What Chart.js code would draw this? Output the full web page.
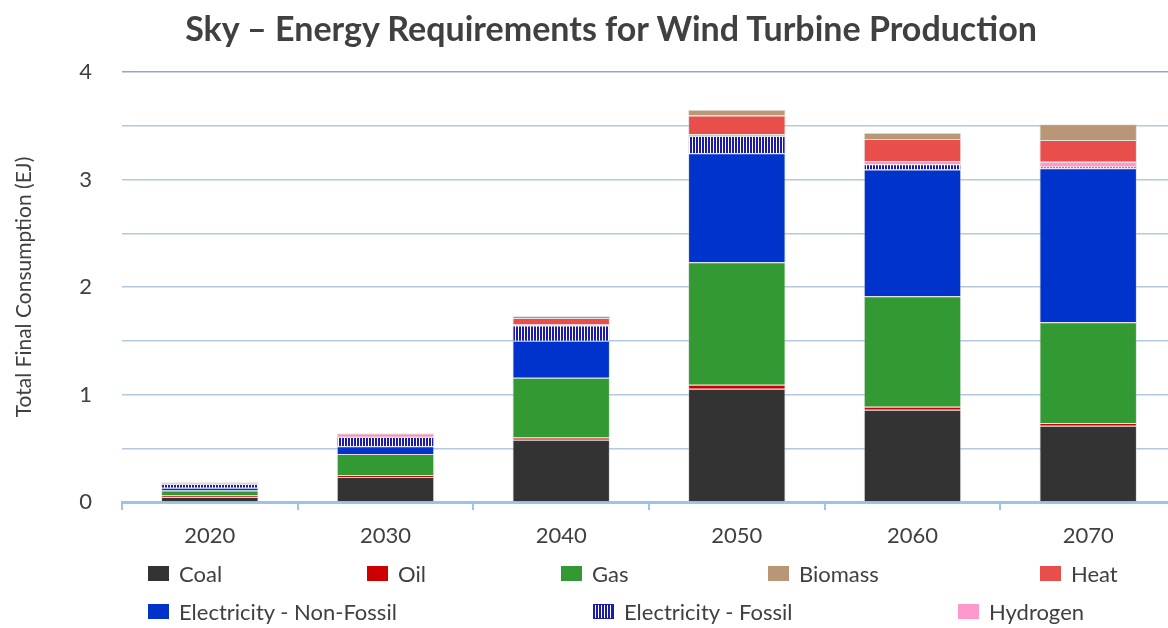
<!DOCTYPE html>
<html>
<head>
<meta charset="utf-8">
<script src="https://cdn.jsdelivr.net/npm/chart.js@4.4.1/dist/chart.umd.min.js"></script>
<style>
  html, body { margin: 0; padding: 0; background: #fff; overflow: hidden; }
  #wrap { position: relative; width: 1168px; height: 628px; overflow: hidden; font-family: Lato, 'Noto Sans', sans-serif; color: #404040; }
  #chartBox { position: absolute; left: 0; top: 0; width: 1176px; height: 628px; }
  #title { position: absolute; top: 7px; left: 0; width: 1222px; text-align: center; font-size: 34px; font-weight: 700; color: #404040; white-space: nowrap; }
  .lg { position: absolute; display: flex; align-items: center; font-size: 22px; color: #404040; white-space: nowrap; }
  .lg span.sw { display: inline-block; width: 21px; height: 15px; margin-right: 10px; }
</style>
</head>
<body>
<div id="wrap">
  <div id="chartBox"><canvas id="energyChart" width="1176" height="628"></canvas></div>
  <div id="title">Sky – Energy Requirements for Wind Turbine Production</div>
  <div id="legend"></div>
</div>
<script>
// categories and series values (EJ), stacked bottom to top
const years = ['2020', '2030', '2040', '2050', '2060', '2070'];
const coal = [0.046, 0.233, 0.58, 1.054, 0.859, 0.71];
const oil = [0.015, 0.019, 0.02, 0.037, 0.028, 0.025];
const gas = [0.047, 0.195, 0.556, 1.14, 1.026, 0.937];
const elecNonFossil = [0.025, 0.071, 0.345, 1.014, 1.18, 1.432];
const elecFossil = [0.034, 0.087, 0.14, 0.16, 0.05, 0.015];
const hydrogen = [0.004, 0.012, 0.01, 0.015, 0.028, 0.045];
const heat = [0.012, 0.015, 0.06, 0.175, 0.205, 0.204];
const biomass = [0.003, 0.005, 0.02, 0.053, 0.058, 0.146];
const yTicks = [0, 1, 2, 3, 4];

// striped fill for fossil electricity
function makeStripes() {
    const c = document.createElement('canvas');
    c.width = 3; c.height = 1;
    const g = c.getContext('2d');
    g.fillStyle = '#ffffff'; g.fillRect(0, 0, 3, 1);
    g.fillStyle = '#1b1ba6'; g.fillRect(0, 0, 2, 1);
    return g.createPattern(c, 'repeat');
}
const stripes = makeStripes();

const series = [
    { label: 'Coal', data: coal, color: '#333333' },
    { label: 'Oil', data: oil, color: '#cc0000' },
    { label: 'Gas', data: gas, color: '#339933' },
    { label: 'Electricity - Non-Fossil', data: elecNonFossil, color: '#0033cc' },
    { label: 'Electricity - Fossil', data: elecFossil, color: stripes },
    { label: 'Hydrogen', data: hydrogen, color: '#ff99cc' },
    { label: 'Heat', data: heat, color: '#e84f4a' },
    { label: 'Biomass', data: biomass, color: '#b89676' }
];

// legend layout (Excel-style rows)
const legendSpots = [
    ['Coal', 148, 574], ['Oil', 367, 574], ['Gas', 561, 574], ['Biomass', 768, 574], ['Heat', 1040, 574],
    ['Electricity - Non-Fossil', 148, 612], ['Electricity - Fossil', 593, 612], ['Hydrogen', 958, 612]
];
const legendEl = document.getElementById('legend');
legendSpots.forEach(function(spot) {
    const item = document.createElement('div');
    item.className = 'lg';
    item.style.left = spot[1] + 'px';
    item.style.top = (spot[2] - 14) + 'px';
    const sw = document.createElement('span');
    sw.className = 'sw';
    if (spot[0] === 'Electricity - Fossil') {
        sw.style.background = 'repeating-linear-gradient(90deg, #1b1ba6 0px, #1b1ba6 2px, #fff 2px, #fff 3px)';
        sw.style.boxShadow = 'inset 0 0 0 1px #1b1ba6';
    } else {
        sw.style.background = series.find(s => s.label === spot[0]).color;
    }
    item.appendChild(sw);
    item.appendChild(document.createTextNode(spot[0]));
    legendEl.appendChild(item);
});

const ctx = document.getElementById('energyChart').getContext('2d');
new Chart(ctx, {
    type: 'bar',
    data: {
        labels: years,
        datasets: series.map(s => ({
            label: s.label,
            data: s.data,
            backgroundColor: s.color,
            borderColor: 'rgba(190,190,190,0.45)',
            borderWidth: 1,
            categoryPercentage: 1.0,
            barPercentage: 0.555
        }))
    },
    options: {
        responsive: false,
        animation: false,
        layout: { padding: { top: 72, bottom: 0, left: 0, right: 0 } },
        plugins: {
            legend: { display: false },
            tooltip: { enabled: false }
        },
        scales: {
            x: {
                stacked: true,
                afterFit: function(scale) { scale.height = 126; },
                grid: {
                    display: true,
                    offset: true,
                    drawOnChartArea: false,
                    drawTicks: true,
                    tickLength: 8,
                    color: '#9dc3e6',
                    lineWidth: 2
                },
                border: { display: true, color: '#9dc3e6', width: 3 },
                ticks: {
                    color: '#404040',
                    padding: 13,
                    font: { family: 'Lato', size: 22 }
                }
            },
            y: {
                stacked: true,
                min: 0,
                max: 4,
                afterFit: function(scale) { scale.width = 122; },
                title: {
                    display: true,
                    text: 'Total Final Consumption (EJ)',
                    color: '#404040',
                    padding: { top: 12, bottom: 28 },
                    font: { family: 'Lato', size: 21 }
                },
                border: { display: false },
                grid: {
                    drawTicks: false,
                    lineWidth: 1.5,
                    color: function(c) { return c.tick && c.tick.value === 4 ? '#92a9c2' : '#b3c9e0'; }
                },
                ticks: {
                    stepSize: 0.5,
                    padding: 30,
                    color: '#404040',
                    font: { family: 'Lato', size: 22 },
                    callback: function(v) { return yTicks.includes(v) ? String(v) : ''; }
                }
            }
        }
    }
});
</script>
</body>
</html>
